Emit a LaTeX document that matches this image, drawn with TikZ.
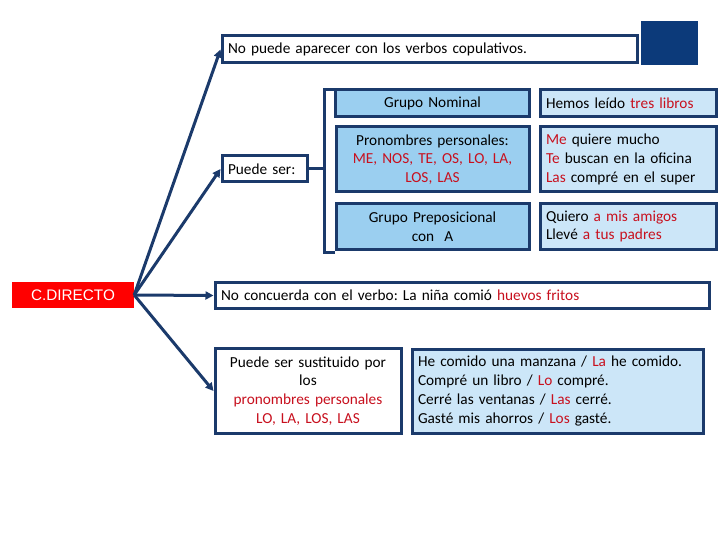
\documentclass[tikz,border=0pt]{standalone}
\usepackage{fontspec}
\setmainfont{Carlito}
\newfontfamily\arialf{Liberation Sans}
\usetikzlibrary{arrows.meta}
\frenchspacing
\definecolor{dblue}{RGB}{27,58,107}
\definecolor{sqblue}{RGB}{12,58,122}
\definecolor{midblue}{RGB}{155,207,240}
\definecolor{lightblue}{RGB}{204,230,248}
\definecolor{txtred}{RGB}{200,16,30}
\definecolor{cdred}{RGB}{255,0,0}
\newcommand{\rd}[1]{\textcolor{txtred}{#1}}
\tikzset{
  box/.style={draw=dblue, line width=3pt, rectangle, inner sep=0pt, inner xsep=6pt,
    font=\frenchspacing\fontsize{15.3}{18.8}\selectfont},
  wbox/.style={box, fill=white},
  mbox/.style={box, fill=midblue},
  lbox/.style={box, fill=lightblue},
  conn/.style={draw=dblue, line width=3pt, -{Triangle[length=8pt,width=8pt]}},
  brk/.style={draw=dblue, line width=3pt}
}
\begin{document}
\begin{tikzpicture}[x=1pt,y=-1pt]
\useasboundingbox (0,0) rectangle (720,540);
\node[fill=sqblue, minimum width=57pt, minimum height=44pt, inner sep=0pt] (sq) at (669.5,43) {};
\node[wbox, minimum height=27pt, text width=403pt, align=left] (top) at (429.5,49.5) {No puede aparecer con los verbos copulativos.};
\node[fill=cdred, minimum width=122pt, minimum height=26pt, inner sep=0pt, text=white, font=\arialf\fontsize{15.3}{17}\selectfont] (cd) at (73,295) {C.DIRECTO};
\node[wbox, minimum height=26pt, text width=73pt, align=left] (puede) at (264.5,169) {Puede ser:};
\node[mbox, minimum height=27pt, text width=182pt, align=center] (gn) at (432.5,103.5) {Grupo Nominal};
\node[mbox, minimum height=65pt, text width=181pt, align=center] (pp) at (432.5,159.5) {Pronombres personales:\\\rd{ME, NOS, TE, OS, LO, LA,}\\\rd{LOS, LAS}};
\node[mbox, minimum height=46pt, text width=181pt, align=center] (gp) at (432.5,226.5) {Grupo Preposicional\\con~~A};
\node[lbox, minimum height=27pt, text width=164pt, align=left] (e1) at (628,103.5) {Hemos leído \rd{tres libros}};
\node[lbox, minimum height=65pt, text width=164pt, align=left] (e2) at (628,159.5) {\rd{Me} quiere mucho\\\rd{Te} buscan en la oficina\\\rd{Las} compré en el super};
\node[lbox, minimum height=46pt, text width=164pt, align=left] (e3) at (628,226.5) {Quiero \rd{a mis amigos}\\Llevé \rd{a tus padres}};
\node[wbox, minimum height=26pt, text width=482pt, align=left] (nc) at (462,295.5) {No concuerda con el verbo: La niña comió \rd{huevos fritos}};
\node[wbox, minimum height=85pt, text width=174pt, align=center] (sus) at (308,391) {Puede ser sustituido por\\los\\\rd{pronombres personales}\\\rd{LO, LA, LOS, LAS}};
\node[lbox, minimum height=84pt, text width=279pt, align=left] (ex) at (557.5,391) {He comido una manzana / \rd{La} he comido.\\Compré un libro / \rd{Lo} compré.\\Cerré las ventanas / \rd{Las} cerré.\\Gasté mis ahorros / \rd{Los} gasté.};
\draw[conn] (cd.east) -- (top.west);
\draw[conn] (cd.east) -- (puede.west);
\draw[conn] (cd.east) -- (nc.west);
\draw[conn] (cd.east) -- (sus.west);
\coordinate (bm) at (324,169);
\coordinate (bt) at (324,90);
\coordinate (bb) at (324,252);
\draw[brk] (puede.east) -- (bm);
\draw[brk] (gn.west |- bt) -- (bt) -- (bb) -- (gp.west |- bb);
\end{tikzpicture}
\end{document}
